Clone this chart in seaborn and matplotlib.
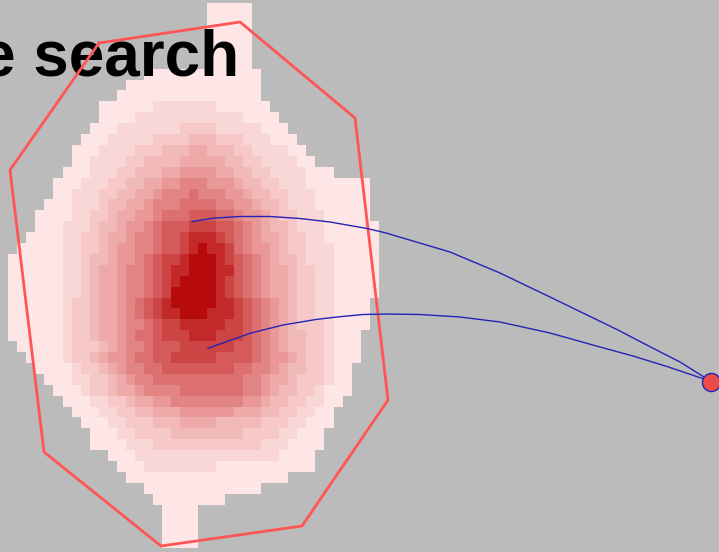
import numpy as np
import matplotlib
matplotlib.use("Agg")
import matplotlib.pyplot as plt
from matplotlib.colors import ListedColormap
import seaborn as sns

# Density levels (1 = faintest, 12 = strongest), one colour per level
LEVEL_COLORS = [
    "#FFE6E6", "#FAD7D7", "#F6C8C8", "#F2B9B9", "#EEA9A9", "#E99797",
    "#E38484", "#DC6F6F", "#D55A5A", "#CD4444", "#C32929", "#B70A0A",
]

# For each grid row: nested (first_col, last_col) spans, level 1 outward to the peak
ROW_SPANS = [
    [(22, 26)],
    [(22, 26)],
    [(22, 26)],
    [(22, 26)],
    [(22, 26)],
    [(22, 26)],
    [(15, 27)],
    [(13, 27)],
    [(12, 27)],
    [(10, 28), (16, 22)],
    [(10, 29), (14, 25)],
    [(9, 30), (12, 27), (19, 22)],
    [(8, 31), (11, 28), (16, 25), (20, 22)],
    [(7, 32), (10, 30), (14, 26), (17, 24), (20, 21)],
    [(7, 33), (9, 31), (13, 27), (15, 25), (19, 23)],
    [(6, 35), (9, 32), (12, 28), (14, 26), (17, 24), (19, 22)],
    [(5, 39), (8, 32), (11, 29), (13, 27), (15, 25), (17, 24), (19, 21)],
    [(5, 39), (7, 33), (10, 30), (12, 28), (14, 26), (16, 25), (17, 23), (20, 20)],
    [(4, 39), (7, 33), (10, 30), (11, 29), (13, 27), (15, 26), (16, 24), (19, 22)],
    [(3, 39), (7, 34), (9, 31), (11, 29), (12, 28), (14, 27), (16, 25), (17, 24), (20, 22)],
    [(3, 40), (6, 34), (9, 31), (10, 30), (12, 28), (13, 27), (15, 26), (16, 25), (17, 24), (20, 22)],
    [(2, 40), (6, 34), (8, 32), (10, 30), (11, 29), (13, 27), (14, 26), (16, 25), (17, 24), (19, 23), (20, 22)],
    [(1, 40), (6, 35), (8, 32), (10, 30), (11, 29), (12, 28), (14, 26), (16, 25), (17, 24), (19, 24), (20, 23), (21, 21)],
    [(0, 40), (6, 35), (8, 32), (9, 31), (11, 29), (12, 28), (14, 27), (15, 26), (16, 25), (17, 24), (19, 23), (20, 22)],
    [(0, 40), (6, 35), (8, 33), (9, 31), (10, 30), (12, 28), (13, 27), (15, 26), (16, 25), (17, 24), (18, 24), (20, 22)],
    [(0, 40), (6, 35), (8, 33), (9, 31), (10, 30), (12, 28), (13, 27), (15, 26), (16, 25), (17, 24), (18, 23), (19, 22)],
    [(0, 40), (6, 35), (8, 33), (9, 31), (10, 30), (12, 28), (13, 27), (15, 26), (16, 25), (17, 24), (18, 23), (18, 22)],
    [(0, 39), (6, 35), (7, 33), (9, 31), (10, 30), (12, 29), (13, 28), (14, 27), (15, 26), (16, 25), (17, 24), (18, 22)],
    [(0, 39), (6, 35), (7, 33), (9, 31), (10, 30), (12, 29), (13, 28), (14, 27), (15, 26), (16, 25), (17, 24), (19, 21)],
    [(0, 39), (6, 35), (7, 34), (9, 31), (10, 30), (12, 29), (13, 28), (15, 27), (16, 26), (17, 25), (19, 23)],
    [(0, 38), (6, 35), (7, 34), (9, 32), (10, 30), (12, 29), (13, 28), (14, 27), (16, 26), (17, 25), (20, 22)],
    [(1, 38), (6, 35), (7, 34), (10, 32), (11, 30), (12, 29), (13, 28), (15, 27), (16, 26), (19, 24)],
    [(2, 38), (6, 35), (7, 34), (9, 32), (10, 31), (11, 30), (13, 28), (14, 27), (16, 26), (18, 22)],
    [(3, 37), (7, 35), (8, 34), (10, 32), (11, 30), (12, 29), (13, 28), (15, 26), (17, 24)],
    [(4, 37), (7, 35), (9, 34), (11, 31), (12, 30), (13, 28), (14, 27), (16, 25)],
    [(5, 37), (8, 34), (9, 33), (11, 31), (12, 29), (14, 28), (15, 27), (19, 25)],
    [(6, 36), (9, 34), (11, 32), (13, 30), (14, 28), (16, 27), (18, 25)],
    [(7, 35), (10, 33), (12, 31), (14, 29), (16, 27), (19, 24)],
    [(8, 35), (11, 32), (13, 30), (16, 27), (19, 22)],
    [(9, 34), (12, 31), (14, 29), (18, 25)],
    [(9, 34), (13, 30), (16, 27)],
    [(11, 33), (14, 29)],
    [(12, 33), (15, 22)],
    [(13, 30)],
    [(15, 27)],
    [(16, 23)],
    [(17, 20)],
    [(17, 20)],
    [(17, 20)],
    [(17, 20)],
]
N_COLS = 41

# Service-area outline (pixel space of the canvas)
BOUNDARY_X = [99, 240, 355, 388, 302, 161, 44, 10, 99]
BOUNDARY_Y = [43, 22, 118, 400, 526, 546, 452, 170, 43]

# Two routes leading back to the origin point
ROUTE_A_X = [192, 215, 240, 270, 300, 330, 366, 385, 450, 500, 550, 618, 650, 680, 704]
ROUTE_A_Y = [221.5, 218, 216.5, 216.5, 218.5, 222, 228.3, 232.7, 252, 273, 297, 330, 346.7, 362, 377]
ROUTE_B_X = [208, 250, 283, 317, 340, 363, 385, 420, 460, 500, 550, 600, 633, 667, 704]
ROUTE_B_Y = [348.3, 333.3, 325, 319.3, 316.7, 314.5, 314, 314.5, 317, 322, 333, 347, 356, 366.5, 379]
ORIGIN_X = [711]
ORIGIN_Y = [382]

TITLE = "e search"

W, H = 719, 552
BG = "#BBBBBB"

grid = np.zeros((len(ROW_SPANS), N_COLS))
for r, spans in enumerate(ROW_SPANS):
    for level, (lo, hi) in enumerate(spans, start=1):
        grid[r, lo:hi + 1] = level

fig = plt.figure(figsize=(W / 100, H / 100), dpi=100, facecolor=BG)

# Density grid
left, right, top, bottom = 8.3, 378.7, 3.3, 548.3
ax_heat = fig.add_axes([left / W, (H - bottom) / H, (right - left) / W, (bottom - top) / H])
ax_heat.set_facecolor("none")
sns.heatmap(
    grid, mask=grid == 0, cmap=ListedColormap(LEVEL_COLORS),
    vmin=0.5, vmax=len(LEVEL_COLORS) + 0.5, cbar=False,
    xticklabels=False, yticklabels=False, linewidths=0, ax=ax_heat,
)
ax_heat.set_axis_off()

# Overlay in canvas pixel coordinates
ax = fig.add_axes([0, 0, 1, 1])
ax.set_facecolor("none")

ax.text(-20, 75, TITLE, fontsize=46, fontweight="bold", family="Liberation Sans",
        color="black", ha="left", va="baseline", zorder=2)

sns.lineplot(x=BOUNDARY_X, y=BOUNDARY_Y, sort=False, estimator=None,
             color="#FF5555", lw=2.0, ax=ax, zorder=3)
sns.lineplot(x=ROUTE_A_X, y=ROUTE_A_Y, sort=False, estimator=None,
             color="#2424B4", lw=1.0, ax=ax, zorder=4)
sns.lineplot(x=ROUTE_B_X, y=ROUTE_B_Y, sort=False, estimator=None,
             color="#2424B4", lw=1.0, ax=ax, zorder=4)
sns.scatterplot(x=ORIGIN_X, y=ORIGIN_Y, s=170, color="#EE4A4A",
                edgecolor="#2424B4", linewidth=1.0, ax=ax, zorder=5)

ax.set_xlim(0, W)
ax.set_ylim(H, 0)
ax.set_axis_off()

fig.savefig("out.png", dpi=100, facecolor=BG)
